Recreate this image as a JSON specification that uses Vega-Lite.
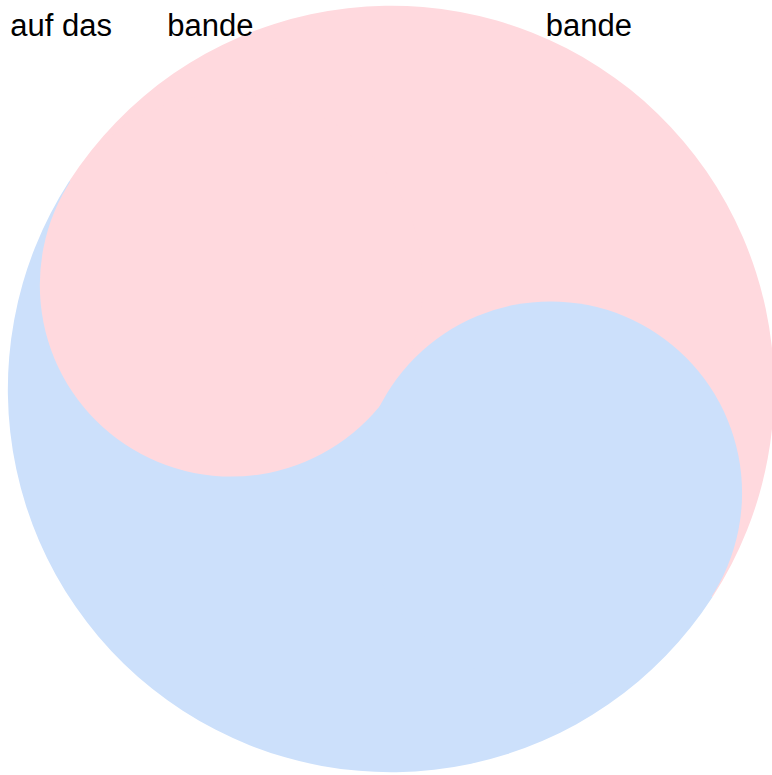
{
  "$schema": "https://vega.github.io/schema/vega-lite/v6.json",
  "width": 772,
  "height": 775,
  "padding": 0,
  "autosize": {"type": "fit", "contains": "padding"},
  "background": "white",
  "config": {"view": {"stroke": null}},
  "datasets": {
    "halves": [
      {"part": "pink", "share": 50, "rank": 1, "cx": 0, "cy": 0},
      {"part": "blue", "share": 50, "rank": 2, "cx": 0, "cy": 0}
    ],
    "dots": [
      {"part": "pink", "cx": -0.42, "cy": 0.2713},
      {"part": "blue", "cx": 0.42, "cy": -0.2713}
    ],
    "labels": [
      {"label": "auf das", "lx": -0.868, "ly": 0.945},
      {"label": "bande", "lx": -0.475, "ly": 0.945},
      {"label": "bande", "lx": 0.521, "ly": 0.945}
    ]
  },
  "layer": [
    {
      "data": {"name": "halves"},
      "mark": {"type": "arc", "radius": 383, "strokeWidth": 0},
      "encoding": {
        "x": {"field": "cx", "type": "quantitative", "scale": {"domain": [-1.0287, 0.9869], "nice": false, "zero": false}, "axis": null},
        "y": {"field": "cy", "type": "quantitative", "scale": {"domain": [-1.0078, 1.0157], "nice": false, "zero": false}, "axis": null},
        "theta": {"field": "share", "type": "quantitative", "stack": true, "scale": {"range": [-0.9966, 5.2866]}},
        "order": {"field": "rank", "type": "quantitative"},
        "color": {"field": "part", "type": "nominal", "scale": {"domain": ["pink", "blue"], "range": ["#ffd9de", "#cce0fb"]}, "legend": null}
      }
    },
    {
      "data": {"name": "dots"},
      "mark": {"type": "point", "shape": "circle", "filled": true, "opacity": 1, "size": 146700, "strokeWidth": 0},
      "encoding": {
        "x": {"field": "cx", "type": "quantitative"},
        "y": {"field": "cy", "type": "quantitative"},
        "color": {"field": "part", "type": "nominal", "legend": null}
      }
    },
    {
      "data": {"name": "labels"},
      "mark": {"type": "text", "font": "Liberation Sans", "fontSize": 31, "align": "center", "baseline": "middle", "color": "black"},
      "encoding": {
        "x": {"field": "lx", "type": "quantitative"},
        "y": {"field": "ly", "type": "quantitative"},
        "text": {"field": "label", "type": "nominal"}
      }
    }
  ]
}
